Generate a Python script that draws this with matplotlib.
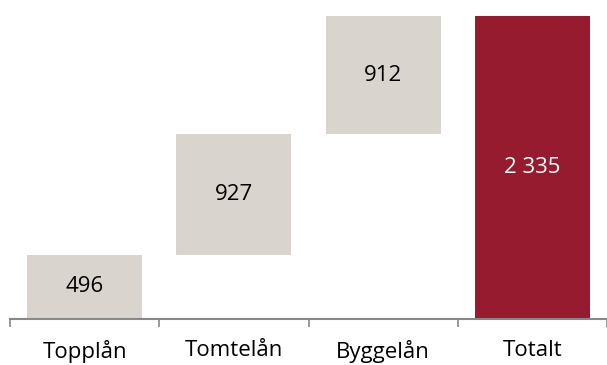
# Waterfall chart: loan volumes by type
import numpy as np
import matplotlib.pyplot as plt

# DATA -----------------------------------------------------------------
categories = ["Topplån", "Tomtelån", "Byggelån", "Totalt"]
values = [496, 927, 912, 2335]
labels = ["496", "927", "912", "2 335"]

# STYLE ----------------------------------------------------------------
GREY = "#D9D4CE"
RED = "#961B2F"
plt.rcParams['font.family'] = ['Open Sans', 'DejaVu Sans']

# bottoms: running sum for the parts, zero for the total
bottoms = list(np.cumsum([0] + values[:-2])) + [0]
colors = [GREY, GREY, GREY, RED]

fig = plt.figure(figsize=(6.07, 3.65), dpi=100)
ax = fig.add_axes([10 / 607, 1 - 319 / 365, 597 / 607, 303 / 365])

x = np.arange(len(categories))
bars = ax.bar(x, values, bottom=bottoms, width=0.77, color=colors)

for i, b in enumerate(bars):
    cy = bottoms[i] + values[i] / 2
    tc = "white" if i == len(values) - 1 else "black"
    ax.text(b.get_x() + b.get_width() / 2, cy, labels[i],
            ha="center", va="center", fontsize=16, color=tc)

ax.set_xlim(-0.5, 3.5)
ax.set_ylim(0, 2335)
ax.set_xticks(np.arange(-0.5, 4, 1))
ax.set_xticklabels([])
ax.set_xticks(x, minor=True)
ax.set_xticklabels(categories, minor=True, fontsize=16)
ax.tick_params(axis="x", which="minor", length=0, pad=15)
ax.tick_params(axis="x", which="major", length=6, color="#888888", width=1.2)
ax.set_yticks([])
for s in ["top", "right", "left"]:
    ax.spines[s].set_visible(False)
ax.spines["bottom"].set_color("#888888")
ax.spines["bottom"].set_linewidth(1.5)

fig.savefig("out.png", dpi=100)
